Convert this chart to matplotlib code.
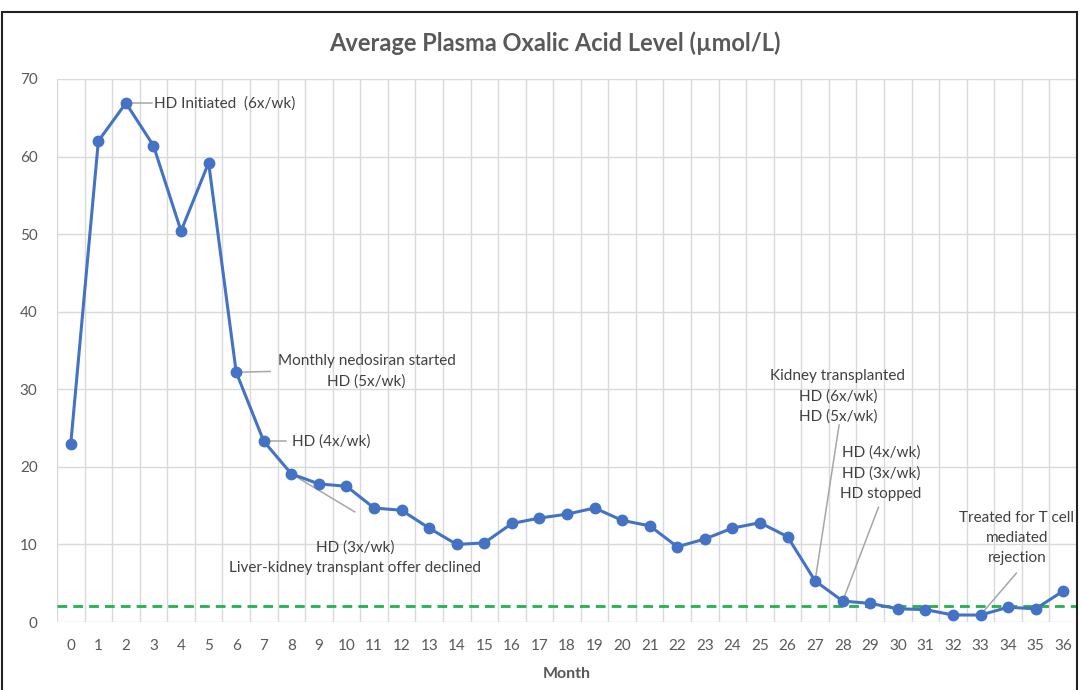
import matplotlib
matplotlib.use("Agg")
import matplotlib.pyplot as plt
from matplotlib.patches import Rectangle

months = list(range(0, 37))
oxalate = [23.0, 62.0, 66.9, 61.4, 50.4, 59.2, 32.2, 23.3, 19.1, 17.8, 17.5,
           14.7, 14.4, 12.1, 10.0, 10.2, 12.7, 13.4, 13.9, 14.7, 13.1, 12.4,
           9.7, 10.7, 12.1, 12.8, 11.0, 5.3, 2.7, 2.4, 1.7, 1.6, 0.9, 0.9,
           1.9, 1.7, 4.0]
reference_level = 2.0
title = "Average Plasma Oxalic Acid Level (\u00b5mol/L)"
xlabel = "Month"
yticks = [0, 10, 20, 30, 40, 50, 60, 70]

# annotations: (month index of point, text, text centre (month, value))
notes = [
    (2, "HD Initiated  (6x/wk)", (5.59, 66.9)),
    (6, "Monthly nedosiran started\nHD (5x/wk)", (10.73, 32.3)),
    (7, "HD (4x/wk)", (9.44, 23.3)),
    (8, "HD (3x/wk)\nLiver-kidney transplant offer declined", (10.31, 8.3)),
    (27, "Kidney transplanted\nHD (6x/wk)\nHD (5x/wk)", (27.83, 29.1)),
    (28, "HD (4x/wk)\nHD (3x/wk)\nHD stopped", (29.39, 19.2)),
    (33, "Treated for T cell\nmediated\nrejection", (34.32, 10.8)),
]
# leader line end points (month, value)
leader_ends = [(2.95, 66.9), (7.23, 32.3), (7.8, 23.3), (10.3, 14.2),
               (27.87, 25.4), (29.3, 14.8), (34.3, 6.3)]

plt.rcParams['font.family'] = ['Lato', 'DejaVu Sans']

fig = plt.figure(figsize=(10.81, 6.90), dpi=100)
ax = fig.add_axes([57/1081, 68/690, 1020/1081, 543/690])

line_color = "#4472C4"
grid_color = "#d9d9d9"
text_color = "#404040"
tick_color = "#595959"

ax.set_xlim(-0.5, 36.5)
ax.set_ylim(0, 70)
for v in yticks:
    ax.axhline(v, color=grid_color, lw=1.0, zorder=0)
for m in months:
    ax.axvline(m - 0.5, color=grid_color, lw=1.0, zorder=0)
ax.axvline(months[-1] + 0.5, color=grid_color, lw=1.0, zorder=0)

ax.axhline(reference_level, color="#22b14c", lw=2.0, ls=(0, (3.5, 2.2)), zorder=1)
ax.plot(months, oxalate, color=line_color, lw=2.2, marker="o", ms=7.5,
        markerfacecolor=line_color, markeredgecolor=line_color, zorder=3)

for (idx, txt, pos), end in zip(notes, leader_ends):
    ax.plot([months[idx], end[0]], [oxalate[idx], end[1]], color="#a6a6a6",
            lw=1.1, zorder=2)
    ax.text(pos[0], pos[1], txt, ha="center", va="center", fontsize=11,
            color=text_color, linespacing=1.55, zorder=4)

ax.set_xticks(months)
ax.set_xticklabels([str(m) for m in months])
ax.set_yticks(yticks)
ax.tick_params(axis="both", length=0, colors=tick_color, labelsize=11)
ax.tick_params(axis="x", pad=12)
ax.tick_params(axis="y", pad=14)
for s in ax.spines.values():
    s.set_visible(False)

ax.set_xlabel(xlabel, fontsize=11.5, fontweight="bold", color=tick_color, labelpad=10)
fig.text(555/1081, 1 - 43/690, title, ha="center", va="center", fontsize=17,
         fontweight="bold", color=tick_color)

fig.patches.append(Rectangle((2/1081, -0.01), 1075/1081, 1 - 12/690 + 0.01,
                             transform=fig.transFigure, fill=False,
                             edgecolor="#222222", lw=1.5))

fig.savefig("out.png", dpi=100)
